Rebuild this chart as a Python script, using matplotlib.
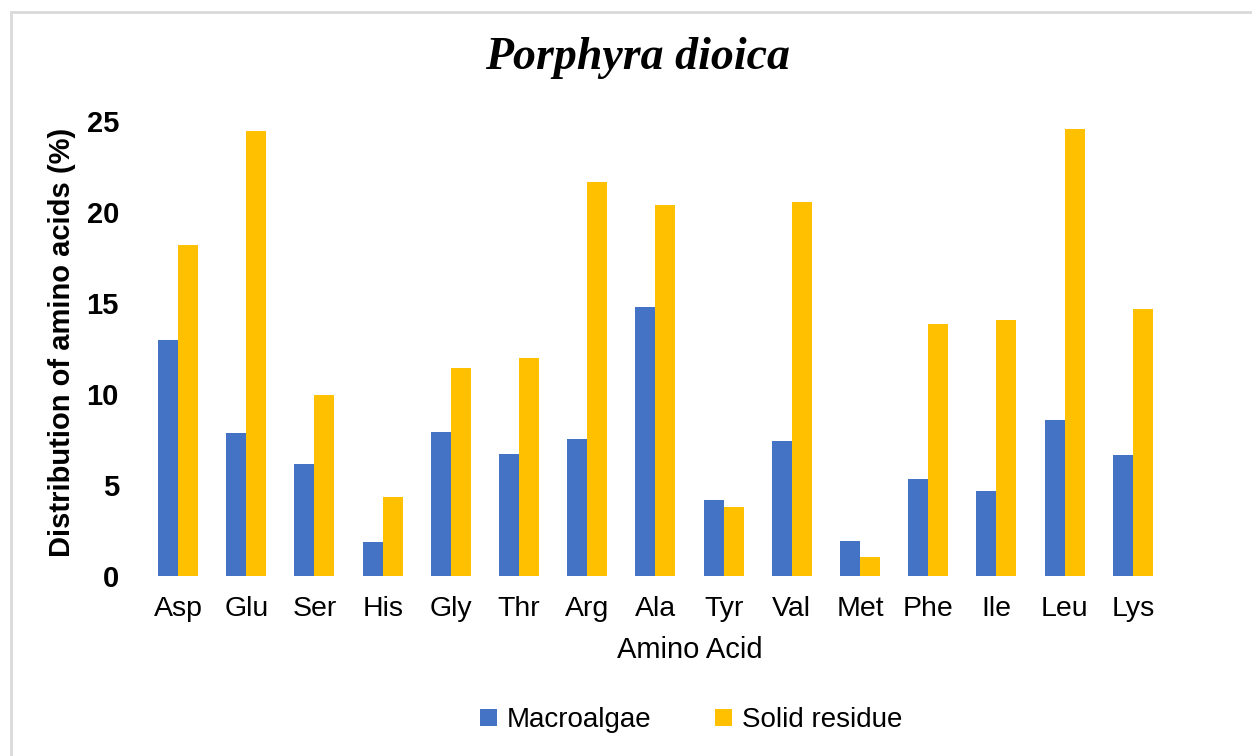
import matplotlib.pyplot as plt
import numpy as np
from matplotlib.patches import Rectangle

amino = ["Asp", "Glu", "Ser", "His", "Gly", "Thr", "Arg", "Ala", "Tyr", "Val",
         "Met", "Phe", "Ile", "Leu", "Lys"]
macroalgae = [12.97, 7.86, 6.15, 1.87, 7.91, 6.70, 7.53, 14.78, 4.18, 7.42,
              1.92, 5.33, 4.67, 8.57, 6.65]
solid_residue = [18.19, 24.45, 9.95, 4.34, 11.43, 11.98, 21.65, 20.38, 3.79, 20.55,
                 1.04, 13.85, 14.07, 24.56, 14.67]

plt.rcParams['font.family'] = ['Liberation Sans', 'DejaVu Sans']

fig = plt.figure(figsize=(12.52, 7.56), dpi=100)
ax = fig.add_axes([0.115, 0.238, 0.817, 0.602])

# light gray frame around the chart (cut off at right/bottom like the source)
fig.patches.append(Rectangle((11 / 1252, -0.05), 1.2, 1 - 12 / 756 + 0.05,
                             transform=fig.transFigure, fill=False,
                             edgecolor='#d9d9d9', linewidth=2))

x = np.arange(len(amino))
w = 0.293
ax.bar(x - w / 2, macroalgae, w, color='#4472C4', label='Macroalgae')
ax.bar(x + w / 2, solid_residue, w, color='#FFC000', label='Solid residue')

ax.set_xlim(-0.5, len(amino) - 0.5)
ax.set_ylim(0, 25)
ax.set_yticks([0, 5, 10, 15, 20, 25])
ax.set_xticks(x)
ax.set_xticklabels(amino, fontsize=20.5)
for lab in ax.get_yticklabels():
    lab.set_fontsize(21)
    lab.set_fontweight('bold')
ax.tick_params(length=0, axis='y', pad=18)
ax.tick_params(length=0, axis='x', pad=14)
for s in ax.spines.values():
    s.set_visible(False)

ax.set_xlabel("Amino Acid", fontsize=21)
ax.xaxis.set_label_coords((690 - 144) / 1023, -(650 - 576) / 455, transform=ax.transAxes)
ax.xaxis.label.set_va('center')
ax.set_ylabel("Distribution of amino acids (%)", fontsize=21, fontweight='bold')
ax.yaxis.set_label_coords(-(144 - 62) / 1023, (576 - 342) / 455, transform=ax.transAxes)
ax.yaxis.label.set_va('center')

fig.text(0.509, 0.923, "Porphyra dioica", ha='center', va='center',
         fontsize=33, fontweight='bold', style='italic', family='Liberation Serif')

fig.legend(loc='center', bbox_to_anchor=(0.552, 0.047), ncol=2, frameon=False,
           fontsize=20, handlelength=0.6, handleheight=0.6, columnspacing=2.3,
           handletextpad=0.35)

fig.savefig("out.png", dpi=100)
